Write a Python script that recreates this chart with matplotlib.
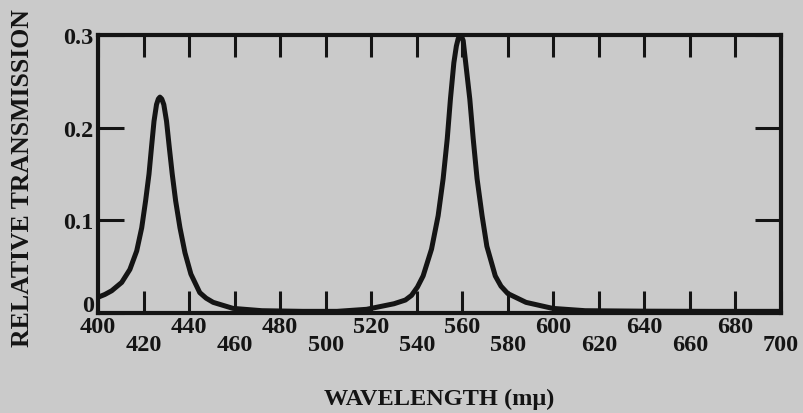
import matplotlib
matplotlib.use("Agg")
from matplotlib import pyplot as plt
from matplotlib.transforms import ScaledTranslation

# ================================================================
# Data
# ================================================================
wavelength = [
    400, 403, 406, 410.4, 414, 417, 419.2, 420.9, 422.4, 423.5,
    424.6, 425.7, 426.5, 427.2, 428.0, 428.9, 430.1, 431.3, 432.6, 434.1,
    436.0, 438.2, 440.8, 444.7, 447.5, 450.6, 459.3, 472, 490, 505,
    518, 524, 530, 535, 537.7, 540.3, 542.8, 546.5, 549.4, 551.6,
    553.4, 554.8, 556.3, 557.4, 558.2, 559.0, 559.6, 560.4, 561.5, 563.3,
    564.8, 566.5, 568.7, 570.8, 574.5, 577.0, 580, 588, 599.7, 614,
    640, 670, 700,
]
transmission = [
    0.017, 0.020, 0.024, 0.033, 0.047, 0.067, 0.092, 0.121, 0.150, 0.179,
    0.207, 0.225, 0.231, 0.233, 0.231, 0.225, 0.207, 0.179, 0.150, 0.121,
    0.092, 0.065, 0.042, 0.022, 0.016, 0.0115, 0.005, 0.0025, 0.0018, 0.0018,
    0.004, 0.007, 0.010, 0.014, 0.019, 0.028, 0.040, 0.069, 0.105, 0.145,
    0.188, 0.231, 0.270, 0.288, 0.296, 0.299, 0.299, 0.294, 0.270, 0.231,
    0.188, 0.145, 0.105, 0.072, 0.040, 0.029, 0.021, 0.0115, 0.005, 0.0025,
    0.002, 0.0018, 0.0018,
]

x_ticks = list(range(400, 701, 20))
x_labels = [str(v) for v in x_ticks]
y_ticks = [0, 0.1, 0.2, 0.3]
y_labels = ["0", "0.1", "0.2", "0.3"]

x_title = "WAVELENGTH (m\u03bc)"
y_title = "RELATIVE TRANSMISSION"

# ================================================================
# Style
# ================================================================
BG = "#cacaca"
INK = "#141414"
FONT = "Liberation Serif"

fig = plt.figure(figsize=(8.04, 4.14), dpi=100, facecolor=BG)
ax = fig.add_axes((0.1219, 0.2415, 0.8495, 0.6715), facecolor=BG)

ax.plot(wavelength, transmission, color=INK, lw=3.6,
        solid_joinstyle="round", solid_capstyle="round", zorder=3)

ax.set_xlim(400, 700)
ax.set_ylim(0, 0.3)

for side in ax.spines.values():
    side.set_linewidth(3.0)
    side.set_color(INK)

# bottom ticks, labels staggered on two rows
ax.set_xticks(x_ticks)
ax.set_xticklabels(x_labels, fontfamily=FONT, fontweight="bold",
                   fontsize=17.5, color=INK)
ax.tick_params(axis="x", direction="in", length=16, width=2.2,
               color=INK, top=True)
for i, tick in enumerate(ax.xaxis.get_major_ticks()):
    tick.set_pad(2 if i % 2 == 0 else 15)

ax.set_yticks(y_ticks)
ax.set_yticklabels(y_labels, fontfamily=FONT, fontweight="bold",
                   fontsize=17.5, color=INK)
ax.tick_params(axis="y", direction="in", length=19, width=2.2,
               color=INK, right=True, pad=3)

# the "0" sits a little above the corner, clear of "400"
zero_label = ax.get_yticklabels()[0]
zero_label.set_transform(zero_label.get_transform()
                         + ScaledTranslation(0, 7.5 / 72, fig.dpi_scale_trans))

ax.set_xlabel(x_title, fontfamily=FONT, fontweight="bold",
              fontsize=17.5, color=INK)
ax.xaxis.set_label_coords(0.5, -0.27)
ax.set_ylabel(y_title, fontfamily=FONT, fontweight="bold",
              fontsize=18.5, color=INK)
ax.yaxis.set_label_coords(-0.093, 0.49)

fig.savefig("out.png", dpi=100, facecolor=BG)
